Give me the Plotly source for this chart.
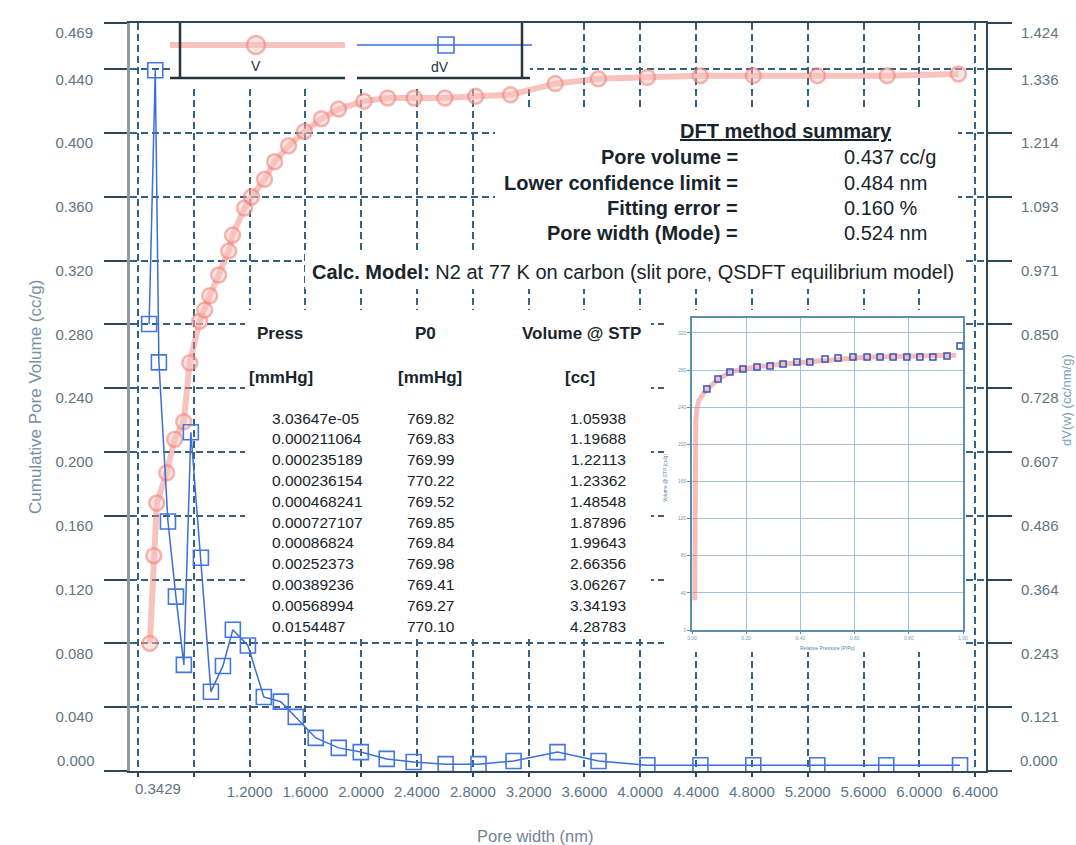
import plotly.graph_objects as go

# ---------------- data ----------------
# cumulative pore volume V (cc/g) vs pore width (nm)
v_width = [0.485, 0.513, 0.535, 0.606, 0.663, 0.728, 0.771, 0.842, 0.878, 0.914, 0.978,
           1.050, 1.078, 1.164, 1.214, 1.307, 1.379, 1.479, 1.593, 1.715, 1.837, 2.020,
           2.190, 2.380, 2.600, 2.820, 3.070, 3.390, 3.700, 4.050, 4.430, 4.810, 5.270,
           5.770, 6.280]
v_cum = [0.080, 0.135, 0.168, 0.187, 0.208, 0.219, 0.256, 0.282, 0.289, 0.298, 0.311,
         0.326, 0.336, 0.353, 0.360, 0.371, 0.382, 0.392, 0.401, 0.409, 0.415, 0.420,
         0.422, 0.422, 0.422, 0.423, 0.424, 0.431, 0.434, 0.435, 0.436, 0.436, 0.436,
         0.436, 0.437]

# differential pore volume dV (right axis)
dv_width = [0.480, 0.524, 0.550, 0.615, 0.672, 0.729, 0.779, 0.851, 0.923, 1.009, 1.080,
            1.188, 1.302, 1.424, 1.531, 1.674, 1.839, 1.997, 2.183, 2.376, 2.605, 2.841,
            3.092, 3.407, 3.701, 4.051, 4.431, 4.810, 5.269, 5.763, 6.292]
dv = [0.851, 1.334, 0.778, 0.475, 0.332, 0.202, 0.645, 0.406, 0.151, 0.200, 0.269,
      0.239, 0.141, 0.132, 0.103, 0.063, 0.044, 0.036, 0.023, 0.017, 0.013, 0.013,
      0.019, 0.036, 0.019, 0.011, 0.011, 0.011, 0.011, 0.011, 0.011]

# inset isotherm: measured points and model fit
iso_p = [0.055, 0.096, 0.140, 0.188, 0.240, 0.288, 0.336, 0.387, 0.435, 0.491, 0.539,
         0.594, 0.646, 0.694, 0.742, 0.793, 0.841, 0.889, 0.941, 0.989]
iso_v = [259.5, 270.3, 277.8, 281.1, 283.2, 284.3, 286.5, 288.6, 288.6, 291.9, 293.0,
         294.1, 294.1, 294.1, 294.1, 294.1, 294.1, 294.1, 295.1, 305.9]
fit_p = [0.010, 0.011, 0.012, 0.014, 0.018, 0.025, 0.040, 0.055, 0.096, 0.140, 0.188,
         0.240, 0.336, 0.435, 0.539, 0.646, 0.742, 0.841, 0.941, 0.975]
fit_v = [32.0, 120.0, 200.0, 225.0, 238.0, 247.0, 254.0, 259.0, 270.0, 277.5, 281.0,
         283.5, 286.5, 289.0, 292.5, 294.0, 294.5, 295.0, 295.5, 296.0]

# axis ticks
x_tickvals = [0.4, 0.8, 1.2, 1.6, 2.0, 2.4, 2.8, 3.2, 3.6, 4.0, 4.4, 4.8, 5.2, 5.6, 6.0, 6.4]
x_ticktext = ["", "", "1.2000", "1.6000", "2.0000", "2.4000", "2.8000", "3.2000", "3.6000",
              "4.0000", "4.4000", "4.8000", "5.2000", "5.6000", "6.0000", "6.4000"]
x_first_label = "0.3429"
yl_tickvals = [0.0, 0.04, 0.08, 0.12, 0.16, 0.20, 0.24, 0.28, 0.32, 0.36, 0.40, 0.44, 0.469]
yl_ticktext = ["0.000", "0.040", "0.080", "0.120", "0.160", "0.200", "0.240", "0.280",
               "0.320", "0.360", "0.400", "0.440", "0.469"]
yr_ticktext = ["0.000", "0.121", "0.243", "0.364", "0.486", "0.607", "0.728", "0.850",
               "0.971", "1.093", "1.214", "1.336", "1.424"]

# text content
summary_labels = ["Pore volume =", "Lower confidence limit =", "Fitting error =", "Pore width (Mode) ="]
summary_values = ["0.437 cc/g", "0.484 nm", "0.160 %", "0.524 nm"]
tbl_press = ["3.03647e-05", "0.000211064", "0.000235189", "0.000236154", "0.000468241",
             "0.000727107", "0.00086824", "0.00252373", "0.00389236", "0.00568994", "0.0154487"]
tbl_p0 = ["769.82", "769.83", "769.99", "770.22", "769.52", "769.85", "769.84", "769.98",
          "769.41", "769.27", "770.10"]
tbl_vol = ["1.05938", "1.19688", "1.22113", "1.23362", "1.48548", "1.87896", "1.99643",
           "2.66356", "3.06267", "3.34193", "4.28783"]

# ---------------- layout geometry (pixels) ----------------
W, H = 1076, 845
PL, PR, PT, PB = 130, 986, 23, 771
X0, X1 = 0.3429, 6.478
YL1 = 0.469
YR1 = 1.424


def px_x(px):  # pixel -> main x data
    return X0 + (px - PL) / (PR - PL) * (X1 - X0)


def px_y(py):  # pixel -> main left-y data
    return (PB - py) / (PB - PT) * YL1


def pap_x(px):
    return (px - PL) / (PR - PL)


def pap_y(py):
    return (PB - py) / (PB - PT)


GRID = "#35617f"
AX = "#2b4759"
TICKC = "#5f7482"
TXT = "#17242c"
RED = "rgba(242,135,125,0.5)"
REDM = "rgba(249,195,190,0.45)"
REDL = "rgba(238,125,115,0.55)"
BLUE = "#3b6fd4"
REG = "Liberation Sans, Arial, sans-serif"

fig = go.Figure()

fig.add_trace(go.Scatter(
    x=v_width, y=v_cum, xaxis="x", yaxis="y", mode="lines+markers", name="V",
    line=dict(color=RED, width=6),
    marker=dict(symbol="circle", size=15, color=REDM, line=dict(color=REDL, width=2.5)),
    showlegend=False))

fig.add_trace(go.Scatter(
    x=dv_width, y=dv, xaxis="x", yaxis="y2", mode="lines+markers", name="dV",
    line=dict(color=BLUE, width=1.5),
    marker=dict(symbol="square-open", size=15, color="#4477dd", line=dict(width=1.6)),
    showlegend=False))

# inset isotherm
fig.add_trace(go.Scatter(
    x=fit_p, y=fit_v, xaxis="x3", yaxis="y3", mode="lines",
    line=dict(color="rgba(240,125,115,0.5)", width=5), showlegend=False))
fig.add_trace(go.Scatter(
    x=iso_p, y=iso_v, xaxis="x3", yaxis="y3", mode="markers",
    marker=dict(symbol="square-open", size=6, color="#3452c0", line=dict(width=1.5)),
    showlegend=False))

tickfont = dict(family=REG, size=15, color=TICKC)

fig.update_layout(
    width=W, height=H, autosize=False,
    margin=dict(l=PL, r=W - PR, t=PT, b=H - PB, pad=0),
    paper_bgcolor="white", plot_bgcolor="white", showlegend=False,
    xaxis=dict(range=[X0, X1], tickmode="array", tickvals=x_tickvals, ticktext=x_ticktext,
               showgrid=True, gridcolor=GRID, gridwidth=1.5, griddash="7px,4px",
               zeroline=False, showline=True, linecolor=AX, linewidth=2, mirror=True,
               ticks="outside", ticklen=4, tickwidth=1.5, tickcolor=AX,
               tickfont=tickfont, ticklabelstandoff=2, automargin=False),
    yaxis=dict(range=[0, YL1], tickmode="array", tickvals=yl_tickvals,
               ticktext=[""] + yl_ticktext[1:],
               showgrid=True, gridcolor=GRID, gridwidth=1.5, griddash="7px,4px",
               zeroline=False, showline=True, linecolor="#8d9ba6", linewidth=3,
               ticks="outside", ticklen=23, tickwidth=2, tickcolor=AX,
               tickfont=tickfont, ticklabelshift=10, ticklabelstandoff=8, automargin=False),
    yaxis2=dict(overlaying="y", side="right", anchor="x", range=[0, YR1], tickmode="array",
                tickvals=[v * YR1 / YL1 for v in yl_tickvals],
                ticktext=[""] + yr_ticktext[1:],
                showgrid=False, zeroline=False, showline=True, linecolor=AX, linewidth=2,
                ticks="outside", ticklen=24, tickwidth=2, tickcolor=AX,
                tickfont=tickfont, ticklabelshift=10, ticklabelstandoff=6, automargin=False),
    xaxis3=dict(domain=[pap_x(692), pap_x(963)], anchor="y3", range=[0, 1], dtick=0.2,
                tickformat=".2f", showgrid=True, gridcolor="#a3c3da", gridwidth=1.2,
                zeroline=False, showline=True, mirror=True, linecolor="#5b8fb0", linewidth=1.5,
                ticks="outside", ticklen=2, tickcolor="#5b8fb0",
                tickfont=dict(family=REG, size=5, color="#7a9ab0"), automargin=False),
    yaxis3=dict(domain=[pap_y(630), pap_y(318)], anchor="x3", range=[0, 336], dtick=40,
                showgrid=True, gridcolor="#a3c3da", gridwidth=1.2,
                zeroline=False, showline=True, mirror=True, linecolor="#5b8fb0", linewidth=1.5,
                ticks="outside", ticklen=3, tickcolor="#5b8fb0",
                tickfont=dict(family=REG, size=5, color="#7a9ab0"), automargin=False),
)

shapes = []
# white panels hiding the main grid behind text / inset / legend
for (a, b, c, d) in [(172, 530, 23, 86),     # legend
                     (495, 958, 108, 250),   # summary
                     (305, 962, 254, 289),   # calc model line
                     (245, 651, 310, 637),   # table
                     (664, 966, 310, 652)]:  # inset
    shapes.append(dict(type="rect", xref="x", yref="y", layer="between",
                       x0=px_x(a), x1=px_x(b), y0=px_y(d), y1=px_y(c),
                       fillcolor="white", line=dict(width=0)))

# custom legend
LEGC = "#26343d"
shapes += [
    dict(type="line", xref="paper", yref="paper", x0=pap_x(170), x1=pap_x(345),
         y0=pap_y(45), y1=pap_y(45), line=dict(color=RED, width=6), layer="above"),
    dict(type="circle", xref="paper", yref="paper", x0=pap_x(247), x1=pap_x(265),
         y0=pap_y(54), y1=pap_y(36), fillcolor=REDM,
         line=dict(color=REDL, width=2.5), layer="above"),
    dict(type="line", xref="paper", yref="paper", x0=pap_x(357), x1=pap_x(532),
         y0=pap_y(45), y1=pap_y(45), line=dict(color=BLUE, width=1.5), layer="above"),
    dict(type="rect", xref="paper", yref="paper", x0=pap_x(438), x1=pap_x(454),
         y0=pap_y(53), y1=pap_y(37), fillcolor="rgba(0,0,0,0)",
         line=dict(color="#4477dd", width=1.6), layer="above"),
    dict(type="line", xref="paper", yref="paper", x0=pap_x(180), x1=pap_x(180),
         y0=pap_y(78), y1=pap_y(23), line=dict(color=LEGC, width=2.5), layer="above"),
    dict(type="line", xref="paper", yref="paper", x0=pap_x(522), x1=pap_x(522),
         y0=pap_y(78), y1=pap_y(23), line=dict(color=LEGC, width=2.5), layer="above"),
    dict(type="line", xref="paper", yref="paper", x0=pap_x(170), x1=pap_x(345),
         y0=pap_y(78), y1=pap_y(78), line=dict(color=LEGC, width=2.5), layer="above"),
    dict(type="line", xref="paper", yref="paper", x0=pap_x(357), x1=pap_x(530),
         y0=pap_y(78), y1=pap_y(78), line=dict(color=LEGC, width=2.5), layer="above"),
]

ann = []


def text(px, py, s, size, anchor="center", bold=False, color=TXT, angle=0):
    ann.append(dict(xref="paper", yref="paper", x=pap_x(px), y=pap_y(py),
                    text=("<b>%s</b>" % s) if bold else s, showarrow=False,
                    xanchor=anchor, yanchor="middle", textangle=angle,
                    font=dict(family=REG, size=size, color=color)))


text(256, 66, "V", 14, color=LEGC)
text(440, 67, "dV", 14, color=LEGC)

# summary block
text(786, 131, "<u>DFT method summary</u>", 20, bold=True)
for i, (lab, val) in enumerate(zip(summary_labels, summary_values)):
    py = 157 + i * 25.5
    text(740, py, lab, 20, anchor="right", bold=True)
    text(842, py, val, 20, anchor="left")
text(310, 272, "<b>Calc. Model:</b> N2 at 77 K on carbon (slit pore, QSDFT equilibrium model)",
     20, anchor="left")

# table
text(255, 333, "Press", 17, anchor="left", bold=True)
text(425, 333, "P0", 17, bold=True)
text(581, 333, "Volume @ STP", 17, bold=True)
text(247, 377, "[mmHg]", 17, anchor="left", bold=True)
text(430, 377, "[mmHg]", 17, bold=True)
text(580, 377, "[cc]", 17, bold=True)
for i in range(len(tbl_press)):
    py = 418 + i * 20.8
    text(270, py, tbl_press[i], 15.5, anchor="left")
    text(405, py, tbl_p0[i], 15.5, anchor="left")
    text(628, py, tbl_vol[i], 15.5, anchor="right")

# axis titles and special tick labels
text(133, 788, x_first_label, 15, anchor="left", color=TICKC)
text(97, 760, yl_ticktext[0], 15, anchor="right", color=TICKC)
text(1018, 760, yr_ticktext[0], 15, anchor="left", color=TICKC)
text(535, 836, "Pore width (nm)", 16.5, color="#6f8596")
text(35, 397, "Cumulative Pore Volume (cc/g)", 17, color="#7790a8", angle=-90)
text(1066, 400, "dV(w) (cc/nm/g)", 13, color="#7aa0c0", angle=-90)
# inset titles
text(827, 648, "Relative Pressure (P/Po)", 5, color="#5a7f9a")
text(665, 478, "Volume @ STP (cc/g)", 5, color="#5a7f9a", angle=-90)

fig.update_layout(shapes=shapes, annotations=ann)

fig.write_html("out.html", config={"displayModeBar": False},
               post_script="document.body.style.margin='0';")
